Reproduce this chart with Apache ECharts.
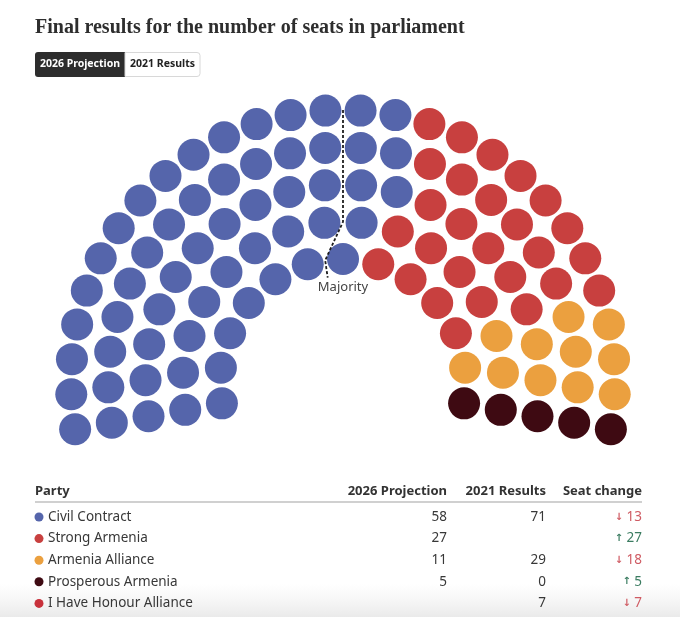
<!DOCTYPE html>
<html>
<head>
<meta charset="utf-8">
<script src="https://cdn.jsdelivr.net/npm/echarts@6/dist/echarts.min.js"></script>
<style>
html,body{margin:0;padding:0;background:#fff;}
#chart{width:680px;height:617px;}
</style>
</head>
<body>
<div id="chart"></div>
<script>
// ---------------- data ----------------
const titleText = 'Final results for the number of seats in parliament';
const toggleLabels = ['2026 Projection', '2021 Results'];
const tableHeaders = ['Party', '2026 Projection', '2021 Results', 'Seat change'];
const parties = ['Civil Contract', 'Strong Armenia', 'Armenia Alliance', 'Prosperous Armenia', 'I Have Honour Alliance'];
const projection2026 = [58, 27, 11, 5, null];
const results2021 = [71, null, 29, 0, 7];
const partyColors = ['#5565ab', '#c8403f', '#eba03f', '#3e0a12', '#c8313b'];
const majorityLabel = 'Majority';

// ---------------- layout helpers ----------------
const FONT = '"Noto Sans", "Open Sans", sans-serif';
const rowValues = [1, 2, 3, 4, 5];
const R_MIN = -2.3, R_MAX = 5;
const ARC_START = 190, ARC_END = -10;

const totalSeats = projection2026.reduce((s, v) => s + (v || 0), 0);
const weights = rowValues.map(v => v - R_MIN);
const wSum = weights.reduce((a, b) => a + b, 0);
const rowCounts = weights.map(w => Math.round(totalSeats * w / wSum));
rowCounts[rowCounts.length - 1] += totalSeats - rowCounts.reduce((a, b) => a + b, 0);

let seats = [];
rowValues.forEach((rv, i) => {
  const n = rowCounts[i];
  for (let j = 0; j < n; j++) {
    const a = ARC_START - j * (ARC_START - ARC_END) / (n - 1);
    seats.push({ row: rv, angle: a });
  }
});
seats.sort((p, q) => (q.angle - p.angle) || (p.row - q.row));
let cursor = 0;
const partySeats = projection2026.map(() => []);
projection2026.forEach((cnt, pi) => {
  for (let k = 0; k < (cnt || 0); k++) {
    const s = seats[cursor];
    s.idx = cursor;
    partySeats[pi].push([s.row, ((s.angle % 360) + 360) % 360]);
    cursor++;
  }
});

// majority line: boundary between first floor(total/2) seats and the rest, per row
const half = Math.floor(totalSeats / 2);
const rowMid = rowValues.map(rv => {
  const rs = seats.filter(s => s.row === rv);
  const before = rs.filter(s => s.idx < half).map(s => s.angle);
  const after = rs.filter(s => s.idx >= half).map(s => s.angle);
  return (Math.min(...before) + Math.max(...after)) / 2;
});
const majorityPts = [];
majorityPts.push([rowValues[4] + 0.4, rowMid[4]]);
for (let i = rowValues.length - 1; i >= 0; i--) majorityPts.push([rowValues[i], rowMid[i]]);
majorityPts.push([rowValues[0] - 0.47, rowMid[0]]);

// ---------------- table graphics ----------------
const graphics = [];
graphics.push({
  type: 'text', left: 35, top: 18, z: 10,
  style: { text: titleText, font: 'bold 20px "Liberation Serif", "DejaVu Serif", serif', fill: '#2e2e2e' }
});
// toggle buttons
graphics.push({ type: 'rect', shape: { x: 35, y: 52, width: 90, height: 25, r: [3, 0, 0, 3] }, style: { fill: '#2d2d2d' }, z: 10 });
graphics.push({ type: 'rect', shape: { x: 125, y: 52.5, width: 75, height: 24, r: [0, 3, 3, 0] }, style: { fill: '#fff', stroke: '#d8d8d8', lineWidth: 1 }, z: 10 });
graphics.push({ type: 'text', x: 80, y: 64.5, z: 11, style: { text: toggleLabels[0], font: 'bold 10.5px ' + FONT, fill: '#fff', align: 'center', verticalAlign: 'middle' } });
graphics.push({ type: 'text', x: 162.5, y: 64.5, z: 11, style: { text: toggleLabels[1], font: 'bold 10.5px ' + FONT, fill: '#222', align: 'center', verticalAlign: 'middle' } });
// majority label
graphics.push({ type: 'text', x: 343, y: 287, z: 11, style: { text: majorityLabel, font: '13px ' + FONT, fill: '#444', align: 'center', verticalAlign: 'middle' } });

const colX = [35, 447, 546, 642];
const headY = 491;
tableHeaders.forEach((h, i) => {
  graphics.push({ type: 'text', x: colX[i], y: headY, z: 10,
    style: { text: h, font: 'bold 13px ' + FONT, fill: '#333', align: i === 0 ? 'left' : 'right', verticalAlign: 'middle' } });
});
graphics.push({ type: 'line', shape: { x1: 35, y1: 502, x2: 642, y2: 502 }, style: { stroke: '#d0d0d0', lineWidth: 2 }, z: 10 });

const rowY0 = 517, rowStep = 21.6;
parties.forEach((p, i) => {
  const y = rowY0 + i * rowStep;
  graphics.push({ type: 'circle', shape: { cx: 39, cy: y, r: 4.5 }, style: { fill: partyColors[i] }, z: 10 });
  graphics.push({ type: 'text', x: 48, y: y, z: 10, style: { text: p, font: '13.5px ' + FONT, fill: '#383838', align: 'left', verticalAlign: 'middle' } });
  if (projection2026[i] != null)
    graphics.push({ type: 'text', x: colX[1], y: y, z: 10, style: { text: String(projection2026[i]), font: '13.5px ' + FONT, fill: '#383838', align: 'right', verticalAlign: 'middle' } });
  if (results2021[i] != null)
    graphics.push({ type: 'text', x: colX[2], y: y, z: 10, style: { text: String(results2021[i]), font: '13.5px ' + FONT, fill: '#383838', align: 'right', verticalAlign: 'middle' } });
  const change = (projection2026[i] || 0) - (results2021[i] || 0);
  const up = change > 0;
  const col = up ? '#3b7c61' : '#cf5b63';
  graphics.push({ type: 'text', x: colX[3], y: y, z: 10, style: {
    text: '{a|' + (up ? '↑' : '↓') + '} {n|' + Math.abs(change) + '}',
    align: 'right', verticalAlign: 'middle',
    rich: { a: { fontSize: 10, fontFamily: 'DejaVu Sans', fill: col, fontWeight: 'bold' }, n: { fontSize: 13.5, fontFamily: FONT, fill: col } }
  } });
});
// bottom fade (behind the text)
graphics.push({ type: 'rect', shape: { x: 0, y: 584, width: 680, height: 33 }, z: 1,
  style: { fill: { type: 'linear', x: 0, y: 0, x2: 0, y2: 1, colorStops: [
    { offset: 0, color: 'rgba(240,240,240,0)' }, { offset: 1, color: 'rgba(234,234,234,1)' }] } } });

// ---------------- chart ----------------
const chart = echarts.init(document.getElementById('chart'), null, { renderer: 'canvas' });
const series = parties.map((p, i) => ({
  name: p, type: 'scatter', coordinateSystem: 'polar',
  data: partySeats[i], symbolSize: 32,
  itemStyle: { color: partyColors[i], opacity: 1 },
  emphasis: { disabled: true }, z: 2
}));
series.push({
  type: 'line', coordinateSystem: 'polar', data: majorityPts, symbol: 'none', clip: false,
  lineStyle: { color: '#1e1e1e', width: 1.8, type: [3, 2] }, z: 5, silent: true
});
chart.setOption({
  animation: false,
  backgroundColor: '#fff',
  polar: { center: [343, 382], radius: 272 },
  angleAxis: { type: 'value', min: 0, max: 360, startAngle: 0, clockwise: false, show: false,
    axisLine: { show: false }, axisLabel: { show: false }, splitLine: { show: false }, axisTick: { show: false } },
  radiusAxis: { type: 'value', min: R_MIN, max: R_MAX, show: false,
    axisLine: { show: false }, axisLabel: { show: false }, splitLine: { show: false }, axisTick: { show: false } },
  series: series,
  graphic: graphics
});
</script>
</body>
</html>
